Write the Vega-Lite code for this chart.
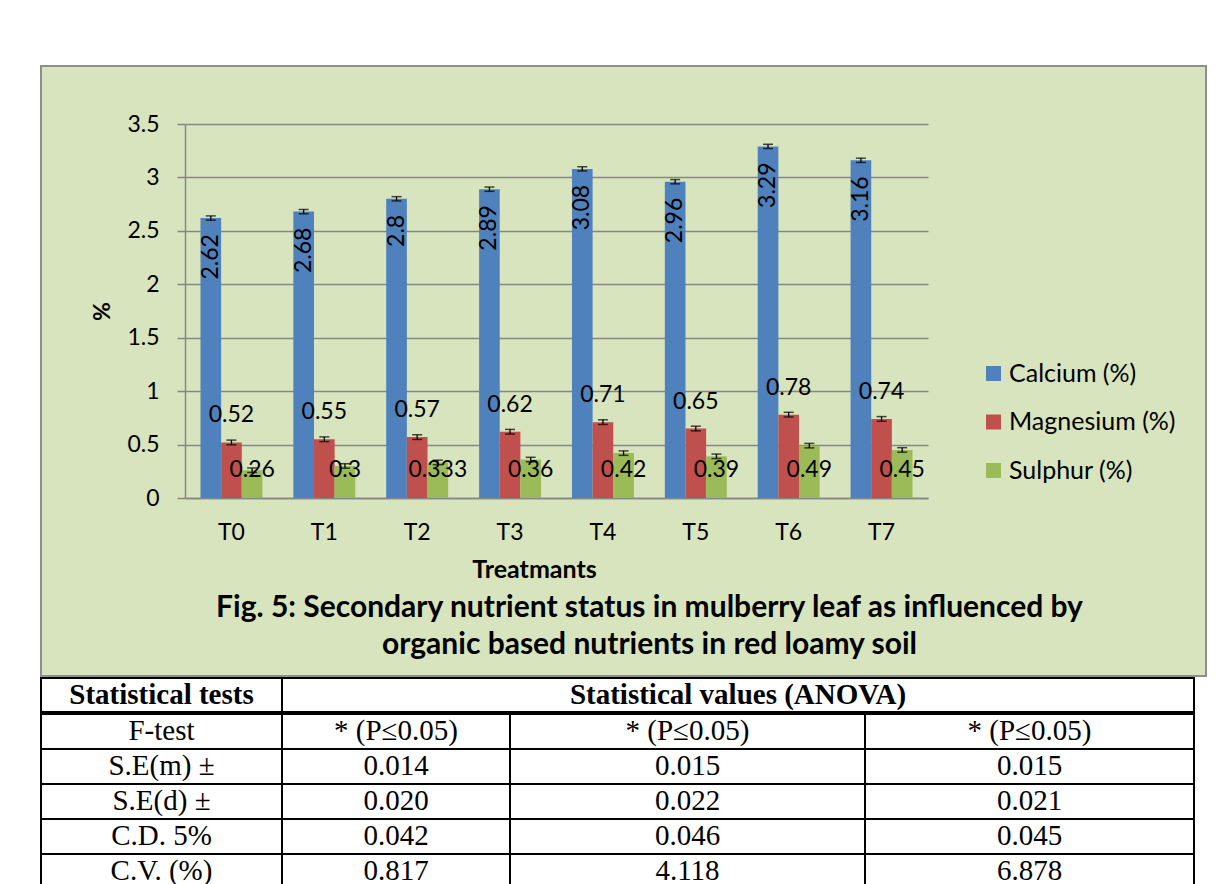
{
  "$schema": "https://vega.github.io/schema/vega-lite/v6.json",
  "background": "white",
  "padding": {"left": 40, "top": 65, "right": 0, "bottom": 0},
  "spacing": 0,
  "datasets": {
    "bars": [
      {"t": "T0", "n": "Calcium (%)", "v": 2.62, "e": 0.02},
      {"t": "T0", "n": "Magnesium (%)", "v": 0.52, "e": 0.022},
      {"t": "T0", "n": "Sulphur  (%)", "v": 0.26, "e": 0.021},
      {"t": "T1", "n": "Calcium (%)", "v": 2.68, "e": 0.02},
      {"t": "T1", "n": "Magnesium (%)", "v": 0.55, "e": 0.022},
      {"t": "T1", "n": "Sulphur  (%)", "v": 0.3, "e": 0.021},
      {"t": "T2", "n": "Calcium (%)", "v": 2.8, "e": 0.02},
      {"t": "T2", "n": "Magnesium (%)", "v": 0.57, "e": 0.022},
      {"t": "T2", "n": "Sulphur  (%)", "v": 0.333, "e": 0.021},
      {"t": "T3", "n": "Calcium (%)", "v": 2.89, "e": 0.02},
      {"t": "T3", "n": "Magnesium (%)", "v": 0.62, "e": 0.022},
      {"t": "T3", "n": "Sulphur  (%)", "v": 0.36, "e": 0.021},
      {"t": "T4", "n": "Calcium (%)", "v": 3.08, "e": 0.02},
      {"t": "T4", "n": "Magnesium (%)", "v": 0.71, "e": 0.022},
      {"t": "T4", "n": "Sulphur  (%)", "v": 0.42, "e": 0.021},
      {"t": "T5", "n": "Calcium (%)", "v": 2.96, "e": 0.02},
      {"t": "T5", "n": "Magnesium (%)", "v": 0.65, "e": 0.022},
      {"t": "T5", "n": "Sulphur  (%)", "v": 0.39, "e": 0.021},
      {"t": "T6", "n": "Calcium (%)", "v": 3.29, "e": 0.02},
      {"t": "T6", "n": "Magnesium (%)", "v": 0.78, "e": 0.022},
      {"t": "T6", "n": "Sulphur  (%)", "v": 0.49, "e": 0.021},
      {"t": "T7", "n": "Calcium (%)", "v": 3.16, "e": 0.02},
      {"t": "T7", "n": "Magnesium (%)", "v": 0.74, "e": 0.022},
      {"t": "T7", "n": "Sulphur  (%)", "v": 0.45, "e": 0.021}
    ],
    "tbl": [
      {"r": 1, "test": "F-test", "a": "* (P≤0.05)", "b": "* (P≤0.05)", "c": "* (P≤0.05)"},
      {"r": 2, "test": "S.E(m) ±", "a": "0.014", "b": "0.015", "c": "0.015"},
      {"r": 3, "test": "S.E(d) ±", "a": "0.020", "b": "0.022", "c": "0.021"},
      {"r": 4, "test": "C.D. 5%", "a": "0.042", "b": "0.046", "c": "0.045"},
      {"r": 5, "test": "C.V. (%)", "a": "0.817", "b": "4.118", "c": "6.878"}
    ]
  },
  "vconcat": [
    {
      "width": 1165,
      "height": 610,
      "view": {"fill": "#d7e4bd", "stroke": "#8e8e8e", "strokeWidth": 2},
      "data": {"name": "bars"},
      "title": {
        "text": ["Fig. 5: Secondary nutrient status in mulberry  leaf as influenced by", "organic based nutrients in red loamy soil"],
        "orient": "bottom",
        "frame": "group",
        "anchor": "middle",
        "align": "center",
        "dx": 26,
        "offset": -83,
        "font": "Lato",
        "fontSize": 30,
        "fontWeight": "bold",
        "lineHeight": 37,
        "color": "black"
      },
      "encoding": {
        "x": {
          "field": "t",
          "type": "nominal",
          "scale": {"range": [144, 887], "paddingInner": 0.333, "paddingOuter": 0.1667},
          "axis": {
            "title": "Treatmants",
            "orient": "bottom",
            "offset": -178,
            "labelAngle": 0,
            "labelFontSize": 23,
            "labelPadding": 23,
            "ticks": false,
            "domainColor": "#868686",
            "domainWidth": 1.5,
            "titleFontSize": 25,
            "titleFontWeight": "bold",
            "titlePadding": 13,
            "titleX": 493,
            "grid": false
          }
        },
        "xOffset": {
          "field": "n",
          "type": "nominal",
          "sort": ["Calcium (%)", "Magnesium (%)", "Sulphur  (%)"],
          "scale": {"paddingInner": 0, "paddingOuter": 0}
        }
      },
      "layer": [
        {
          "mark": {"type": "bar"},
          "encoding": {
            "y": {
              "field": "v",
              "type": "quantitative",
              "title": "%",
              "scale": {"domain": [0, 3.5], "range": [432, 58], "nice": false},
              "axis": {
                "title": "%",
                "values": [0, 0.5, 1, 1.5, 2, 2.5, 3, 3.5],
                "format": "~g",
                "offset": -144,
                "labelFontSize": 23,
                "labelPadding": 18,
                "tickSize": 8,
                "tickColor": "#868686",
                "tickWidth": 1.5,
                "domainColor": "#868686",
                "domainWidth": 1.5,
                "grid": true,
                "gridColor": "#868686",
                "gridWidth": 1.5,
                "titleFontSize": 23,
                "titleFontWeight": "bold",
                "titlePadding": 12
              }
            },
            "color": {
              "field": "n",
              "type": "nominal",
              "sort": ["Calcium (%)", "Magnesium (%)", "Sulphur  (%)"],
              "scale": {"range": ["#4f81bd", "#c0504d", "#9bbb59"]},
              "legend": {
                "orient": "none",
                "legendX": 940,
                "legendY": 295,
                "title": null,
                "symbolType": "square",
                "symbolSize": 225,
                "symbolStrokeWidth": 0,
                "labelFontSize": 25,
                "labelOffset": 3,
                "labelLimit": 400,
                "rowPadding": 22.5,
                "padding": 0
              }
            }
          }
        },
        {
          "mark": {"type": "errorbar", "color": "black", "thickness": 1.3, "ticks": {"size": 10, "thickness": 1.5, "color": "black"}},
          "encoding": {
            "y": {"field": "v", "type": "quantitative", "title": "%"},
            "yError": {"field": "e"}
          }
        },
        {
          "transform": [{"filter": "datum.n === 'Calcium (%)'"}],
          "mark": {"type": "text", "angle": 270, "align": "right", "baseline": "middle", "dx": -16, "fontSize": 23, "color": "black"},
          "encoding": {
            "y": {"field": "v", "type": "quantitative", "title": "%"},
            "text": {"field": "v", "type": "quantitative", "format": "~g"}
          }
        },
        {
          "transform": [{"filter": "datum.n === 'Magnesium (%)'"}],
          "mark": {"type": "text", "baseline": "middle", "dy": -27, "fontSize": 23, "color": "black"},
          "encoding": {
            "y": {"field": "v", "type": "quantitative", "title": "%"},
            "text": {"field": "v", "type": "quantitative", "format": "~g"}
          }
        },
        {
          "transform": [{"filter": "datum.n === 'Sulphur  (%)'"}],
          "mark": {"type": "text", "baseline": "middle", "fontSize": 23, "color": "black"},
          "encoding": {
            "y": {"datum": 0.26, "type": "quantitative", "title": "%"},
            "text": {"field": "v", "type": "quantitative", "format": "~g"}
          }
        }
      ]
    },
    {
      "bounds": "flush",
      "spacing": 0,
      "hconcat": [
        {
          "width": 241,
          "height": 34,
          "view": {"stroke": "black", "strokeWidth": 2, "fill": "white"},
          "data": {"values": [{"h": "Statistical tests"}]},
          "mark": {"type": "text", "font": "Liberation Serif", "fontSize": 29, "fontWeight": "bold", "color": "black", "baseline": "middle"},
          "encoding": {"text": {"field": "h"}}
        },
        {
          "width": 912,
          "height": 34,
          "view": {"stroke": "black", "strokeWidth": 2, "fill": "white"},
          "data": {"values": [{"h": "Statistical values (ANOVA)"}]},
          "mark": {"type": "text", "font": "Liberation Serif", "fontSize": 29, "fontWeight": "bold", "color": "black", "baseline": "middle"},
          "encoding": {"text": {"field": "h"}}
        }
      ]
    },
    {
      "bounds": "flush",
      "spacing": 0,
      "hconcat": [
        {
          "width": 241,
          "height": 175,
          "view": {"stroke": null},
          "data": {"name": "tbl"},
          "encoding": {"y": {"field": "r", "type": "ordinal", "axis": null, "scale": {"paddingInner": 0, "paddingOuter": 0}}},
          "layer": [
            {"mark": {"type": "rect", "fill": "white", "stroke": "black", "strokeWidth": 2}},
            {"mark": {"type": "text", "font": "Liberation Serif", "fontSize": 29, "color": "black", "baseline": "middle", "dy": -1}, "encoding": {"text": {"field": "test"}}}
          ]
        },
        {
          "width": 228,
          "height": 175,
          "view": {"stroke": null},
          "data": {"name": "tbl"},
          "encoding": {"y": {"field": "r", "type": "ordinal", "axis": null, "scale": {"paddingInner": 0, "paddingOuter": 0}}},
          "layer": [
            {"mark": {"type": "rect", "fill": "white", "stroke": "black", "strokeWidth": 2}},
            {"mark": {"type": "text", "font": "Liberation Serif", "fontSize": 29, "color": "black", "baseline": "middle", "dy": -1}, "encoding": {"text": {"field": "a"}}}
          ]
        },
        {
          "width": 355,
          "height": 175,
          "view": {"stroke": null},
          "data": {"name": "tbl"},
          "encoding": {"y": {"field": "r", "type": "ordinal", "axis": null, "scale": {"paddingInner": 0, "paddingOuter": 0}}},
          "layer": [
            {"mark": {"type": "rect", "fill": "white", "stroke": "black", "strokeWidth": 2}},
            {"mark": {"type": "text", "font": "Liberation Serif", "fontSize": 29, "color": "black", "baseline": "middle", "dy": -1}, "encoding": {"text": {"field": "b"}}}
          ]
        },
        {
          "width": 329,
          "height": 175,
          "view": {"stroke": null},
          "data": {"name": "tbl"},
          "encoding": {"y": {"field": "r", "type": "ordinal", "axis": null, "scale": {"paddingInner": 0, "paddingOuter": 0}}},
          "layer": [
            {"mark": {"type": "rect", "fill": "white", "stroke": "black", "strokeWidth": 2}},
            {"mark": {"type": "text", "font": "Liberation Serif", "fontSize": 29, "color": "black", "baseline": "middle", "dy": -1}, "encoding": {"text": {"field": "c"}}}
          ]
        }
      ]
    }
  ],
  "config": {
    "font": "Lato",
    "axis": {"labelColor": "black", "titleColor": "black", "labelFont": "Lato", "titleFont": "Lato"},
    "legend": {"labelColor": "black", "labelFont": "Lato"},
    "text": {"font": "Lato"}
  }
}
